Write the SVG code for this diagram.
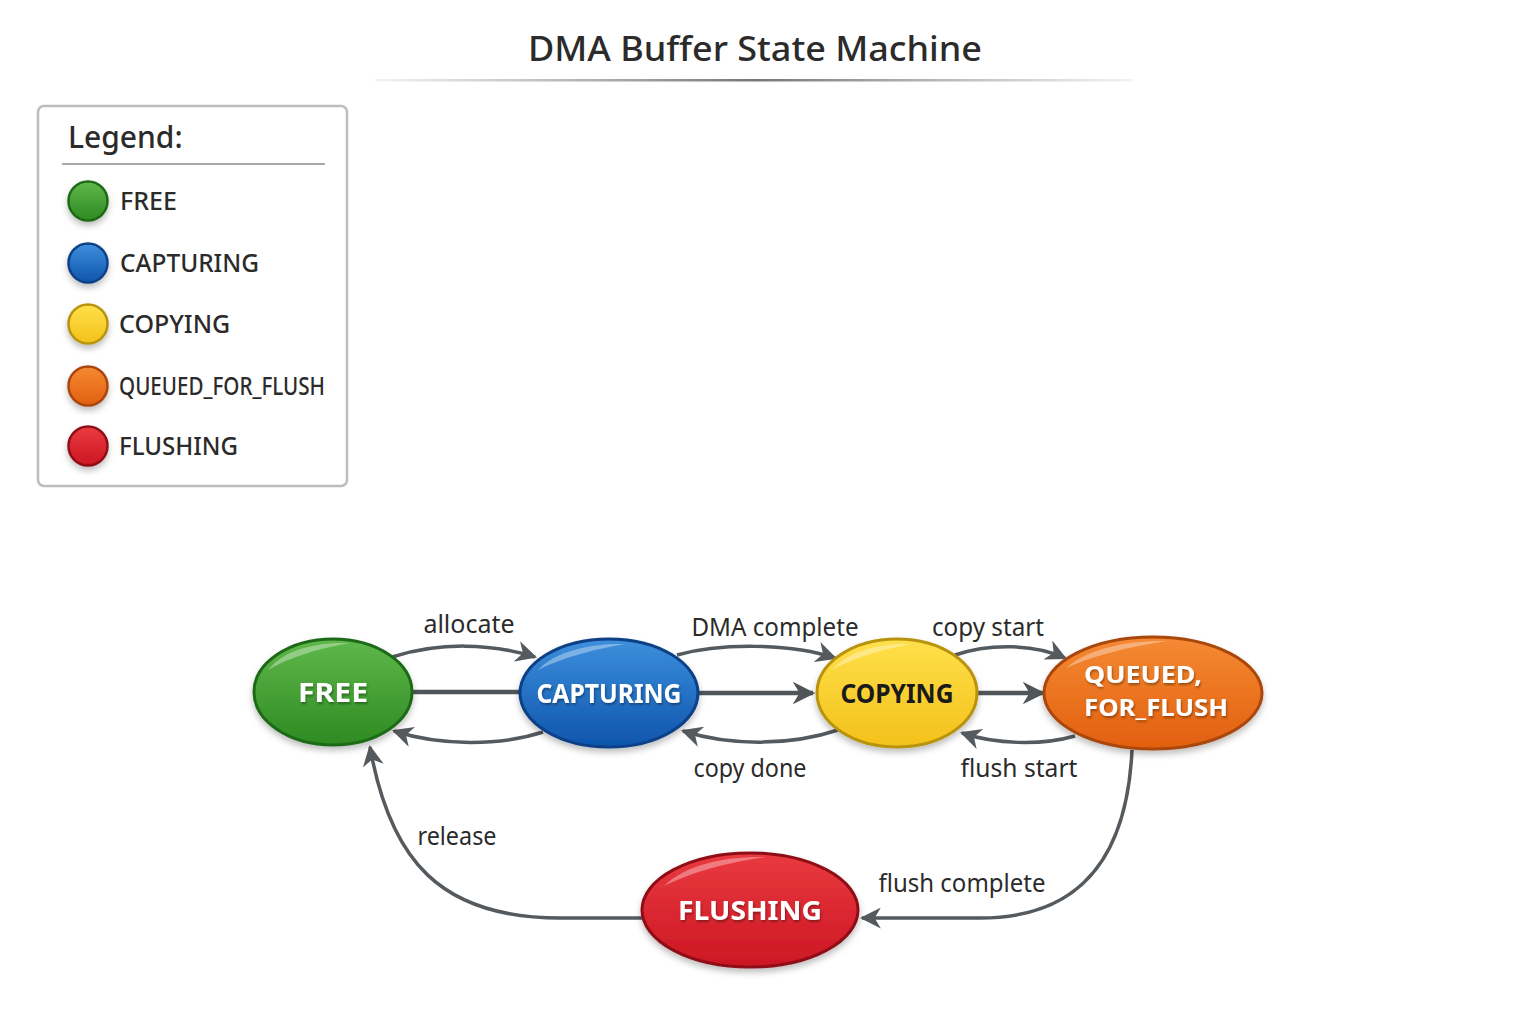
<svg xmlns="http://www.w3.org/2000/svg" width="1536" height="1024" viewBox="0 0 1536 1024">
<style>
  .t { font-family: "Noto Sans", "Open Sans", "DejaVu Sans", sans-serif; }
  .title { font-size: 35px; font-weight: 500; fill: #2b2b2b; }
  .lg { font-size: 25px; font-weight: 500; fill: #2b2b2b; }
  .lgh { font-size: 30px; font-weight: 500; fill: #2b2b2b; }
  .lbl { font-size: 25px; fill: #2b2b2b; }
  .node { font-size: 27px; font-weight: 700; fill: #ffffff; }
  .edge { fill: none; stroke: #555a5e; stroke-width: 3.5; }
  .edgeb { fill: none; stroke: #50555a; stroke-width: 4.5; }
  .hl { fill: #ffffff; opacity: 0.35; }
</style>
<defs>
  <marker id="ah" viewBox="0 0 10 10" refX="9" refY="5" markerWidth="6" markerHeight="6" markerUnits="strokeWidth" orient="auto">
    <path d="M0,0 L10,5 L0,10 L3,5 Z" fill="#555a5e"/>
  </marker>
  <marker id="ahb" viewBox="0 0 10 10" refX="9" refY="5" markerWidth="5" markerHeight="5" markerUnits="strokeWidth" orient="auto">
    <path d="M0,0 L10,5 L0,10 L3,5 Z" fill="#50555a"/>
  </marker>
  <linearGradient id="gG" x1="0" y1="0" x2="0" y2="1"><stop offset="0" stop-color="#5fb84a"/><stop offset="1" stop-color="#2e8a22"/></linearGradient>
  <linearGradient id="gB" x1="0" y1="0" x2="0" y2="1"><stop offset="0" stop-color="#3d8fdc"/><stop offset="1" stop-color="#0e55ad"/></linearGradient>
  <linearGradient id="gY" x1="0" y1="0" x2="0" y2="1"><stop offset="0" stop-color="#ffe04a"/><stop offset="1" stop-color="#f3c11a"/></linearGradient>
  <linearGradient id="gO" x1="0" y1="0" x2="0" y2="1"><stop offset="0" stop-color="#f58a33"/><stop offset="1" stop-color="#e25f0f"/></linearGradient>
  <linearGradient id="gR" x1="0" y1="0" x2="0" y2="1"><stop offset="0" stop-color="#ea3a40"/><stop offset="1" stop-color="#cc1723"/></linearGradient>
  <linearGradient id="tl" x1="0" y1="0" x2="1" y2="0"><stop offset="0" stop-color="#888" stop-opacity="0.1"/><stop offset="0.5" stop-color="#777"/><stop offset="1" stop-color="#888" stop-opacity="0.1"/></linearGradient>
  <filter id="sh" x="-20%" y="-20%" width="140%" height="150%"><feDropShadow dx="0" dy="4" stdDeviation="3" flood-color="#000" flood-opacity="0.25"/></filter>
  <filter id="ts" x="-10%" y="-20%" width="120%" height="150%"><feDropShadow dx="1" dy="2" stdDeviation="1" flood-color="#000" flood-opacity="0.35"/></filter>
</defs>

<g id="title">
  <text class="t title" x="755" y="61" text-anchor="middle" textLength="454" lengthAdjust="spacingAndGlyphs">DMA Buffer State Machine</text>
  <rect x="375" y="79" width="758" height="2.5" fill="url(#tl)"/>
</g>

<g id="legend">
  <rect x="38" y="106" width="309" height="380" rx="6" fill="#ffffff" stroke="#bdbdbd" stroke-width="2.5"/>
  <text class="t lgh" x="68" y="148">Legend:</text>
  <line x1="62" y1="164" x2="325" y2="164" stroke="#a8a8a8" stroke-width="2"/>
  <circle cx="88" cy="201" r="19.5" fill="url(#gG)" stroke="#1f6b17" stroke-width="2.5" filter="url(#sh)"/>
  <circle cx="88" cy="263" r="19.5" fill="url(#gB)" stroke="#0b3f86" stroke-width="2.5" filter="url(#sh)"/>
  <circle cx="88" cy="324" r="19.5" fill="url(#gY)" stroke="#b8930c" stroke-width="2.5" filter="url(#sh)"/>
  <circle cx="88" cy="386" r="19.5" fill="url(#gO)" stroke="#a9460c" stroke-width="2.5" filter="url(#sh)"/>
  <circle cx="88" cy="446" r="19.5" fill="url(#gR)" stroke="#8e0f17" stroke-width="2.5" filter="url(#sh)"/>
  <text class="t lg" x="120" y="210">FREE</text>
  <text class="t lg" x="120" y="272" textLength="139" lengthAdjust="spacingAndGlyphs">CAPTURING</text>
  <text class="t lg" x="119" y="333">COPYING</text>
  <text class="t lg" x="119" y="395" textLength="206" lengthAdjust="spacingAndGlyphs">QUEUED_FOR_FLUSH</text>
  <text class="t lg" x="119" y="455" textLength="119" lengthAdjust="spacingAndGlyphs">FLUSHING</text>
</g>

<g id="connectors">
  <line class="edgeb" x1="411" y1="692" x2="522" y2="692"/>
  <line class="edgeb" x1="697" y1="693" x2="813" y2="693" marker-end="url(#ahb)"/>
  <line class="edgeb" x1="976" y1="693" x2="1043" y2="693" marker-end="url(#ahb)"/>
  <path class="edge" d="M392,657 C440,642 490,643 535,657" marker-end="url(#ah)"/>
  <path class="edge" d="M543,732 C500,746 440,746 394,731" marker-end="url(#ah)"/>
  <path class="edge" d="M677,655 C720,643 790,643 835,658" marker-end="url(#ah)"/>
  <path class="edge" d="M838,730 C790,746 730,746 683,731" marker-end="url(#ah)"/>
  <path class="edge" d="M955,655 C990,643 1035,644 1065,658" marker-end="url(#ah)"/>
  <path class="edge" d="M1075,736 C1040,746 995,744 962,733" marker-end="url(#ah)"/>
  <path class="edge" d="M1132,750 C1126,880 1060,918 980,918 L862,918" marker-end="url(#ah)"/>
  <path class="edge" d="M642,918 L560,918 C440,918 390,860 370,747" marker-end="url(#ah)"/>
  <text class="t lbl" x="469" y="633" text-anchor="middle">allocate</text>
  <text class="t lbl" x="775" y="636" text-anchor="middle" textLength="167" lengthAdjust="spacingAndGlyphs">DMA complete</text>
  <text class="t lbl" x="988" y="636" text-anchor="middle" textLength="112" lengthAdjust="spacingAndGlyphs">copy start</text>
  <text class="t lbl" x="750" y="777" text-anchor="middle" textLength="113" lengthAdjust="spacingAndGlyphs">copy done</text>
  <text class="t lbl" x="1019" y="777" text-anchor="middle" textLength="117" lengthAdjust="spacingAndGlyphs">flush start</text>
  <text class="t lbl" x="457" y="845" text-anchor="middle" textLength="79" lengthAdjust="spacingAndGlyphs">release</text>
  <text class="t lbl" x="962" y="892" text-anchor="middle" textLength="167" lengthAdjust="spacingAndGlyphs">flush complete</text>
</g>

<g id="node-free">
  <ellipse cx="333" cy="692" rx="79" ry="53" fill="url(#gG)" stroke="#1f6b17" stroke-width="3" filter="url(#sh)"/>
  <path class="hl" d="M268,670 C285,648 320,642 350,643 C310,650 285,660 268,670 Z"/>
  <text class="t node" x="333" y="702" text-anchor="middle" textLength="70" lengthAdjust="spacingAndGlyphs" filter="url(#ts)">FREE</text>
</g>
<g id="node-capturing">
  <ellipse cx="609" cy="693" rx="89" ry="54" fill="url(#gB)" stroke="#0b3f86" stroke-width="3" filter="url(#sh)"/>
  <path class="hl" d="M538,670 C556,650 595,643 625,644 C585,651 558,660 538,670 Z"/>
  <text class="t node" x="609" y="703" text-anchor="middle" textLength="145" lengthAdjust="spacingAndGlyphs" filter="url(#ts)">CAPTURING</text>
</g>
<g id="node-copying">
  <ellipse cx="897" cy="693" rx="80" ry="54" fill="url(#gY)" stroke="#b8930c" stroke-width="3" filter="url(#sh)"/>
  <path class="hl" d="M832,670 C848,650 882,643 912,644 C874,651 850,660 832,670 Z"/>
  <text class="t node" x="897" y="703" text-anchor="middle" textLength="113" lengthAdjust="spacingAndGlyphs" style="fill:#1a1a1a">COPYING</text>
</g>
<g id="node-queued">
  <ellipse cx="1153" cy="693" rx="109" ry="56" fill="url(#gO)" stroke="#a9460c" stroke-width="3" filter="url(#sh)"/>
  <path class="hl" d="M1066,668 C1088,648 1130,640 1168,641 C1120,648 1088,658 1066,668 Z"/>
  <text class="t node" x="1084" y="683" textLength="118" lengthAdjust="spacingAndGlyphs" filter="url(#ts)" style="font-size:24px">QUEUED,</text>
  <text class="t node" x="1084" y="716" textLength="144" lengthAdjust="spacingAndGlyphs" filter="url(#ts)" style="font-size:24px">FOR_FLUSH</text>
</g>
<g id="node-flushing">
  <ellipse cx="750" cy="910" rx="108" ry="57" fill="url(#gR)" stroke="#8e0f17" stroke-width="3" filter="url(#sh)"/>
  <path class="hl" d="M664,886 C686,864 728,856 766,857 C718,864 686,875 664,886 Z"/>
  <text class="t node" x="750" y="920" text-anchor="middle" textLength="144" lengthAdjust="spacingAndGlyphs" filter="url(#ts)">FLUSHING</text>
</g>
</svg>
